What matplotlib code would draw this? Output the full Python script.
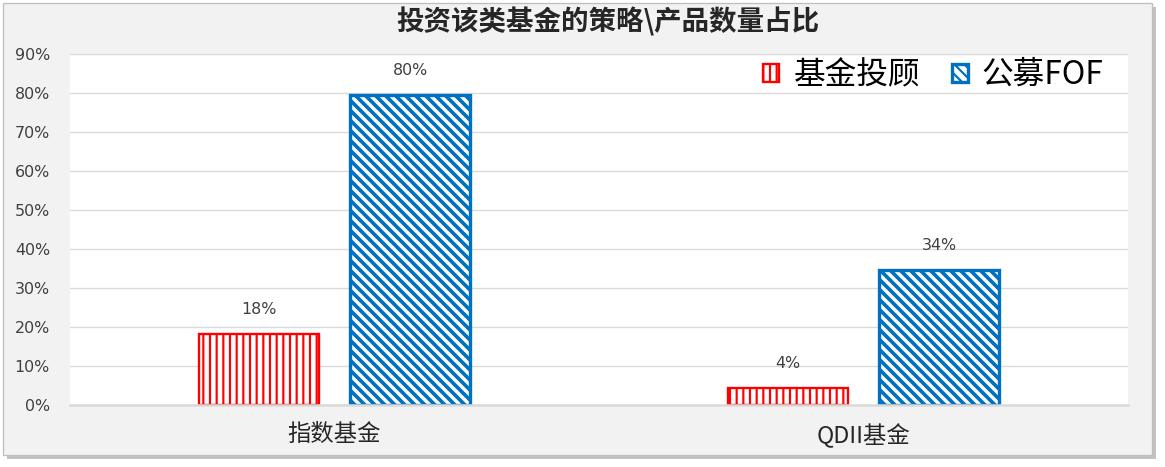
import matplotlib.pyplot as plt
import numpy as np
from matplotlib.patches import Rectangle

# 数据
categories = ["指数基金", "QDII基金"]
series_names = ["基金投顾", "公募FOF"]
advisor_vals = [0.182, 0.044]
fof_vals = [0.795, 0.346]
value_labels = [["18%", "4%"], ["80%", "34%"]]
yticks = [0, 0.1, 0.2, 0.3, 0.4, 0.5, 0.6, 0.7, 0.8, 0.9]

W, H, DPI = 1165, 467, 120
NARROW = ['Liberation Sans Narrow', 'DejaVu Sans']

plt.rcParams['font.family'] = ['Noto Sans CJK SC', 'DejaVu Sans']
plt.rcParams['hatch.linewidth'] = 1.3

fig = plt.figure(figsize=(W / DPI, H / DPI), dpi=DPI, facecolor="white")

# 外框和阴影
shadow = Rectangle((7 / W, 8 / H), 1149 / W, 452 / H, transform=fig.transFigure,
                   facecolor="#9a9a9a", edgecolor="none", alpha=0.6, zorder=-3)
box = Rectangle((3 / W, 12 / H), 1149 / W, 452 / H, transform=fig.transFigure,
                facecolor="#f2f2f2", edgecolor="#bfbfbf", linewidth=0.8, zorder=-2)
fig.patches.extend([shadow, box])

ax = fig.add_axes([70 / W, 62 / H, 1058 / W, 351 / H])
ax.set_zorder(1)
ax.set_facecolor("white")

x = np.arange(len(categories))
bw = 0.227
off = 0.143

b1 = ax.bar(x - off, advisor_vals, bw, facecolor="white", edgecolor="#ff0000",
            hatch="|||", linewidth=1.4, label=series_names[0], zorder=3)
b2 = ax.bar(x + off, fof_vals, bw, facecolor="white", edgecolor="#0070c0",
            hatch="\\\\\\\\", linewidth=2.0, label=series_names[1], zorder=3)
for bar in b2:
    if hasattr(bar, "set_hatch_linewidth"):
        bar.set_hatch_linewidth(2.2)

for bars, labels in zip([b1, b2], value_labels):
    for bar, lab in zip(bars, labels):
        ax.annotate(lab, (bar.get_x() + bar.get_width() / 2, bar.get_height()),
                    xytext=(0, 10), textcoords="offset points", ha="center",
                    va="bottom", fontsize=9.5, color="#404040", family=NARROW)

ax.set_xlim(-0.5, 1.5)
ax.set_ylim(0, 0.9)
ax.set_yticks(yticks)
ax.set_yticklabels([f"{int(round(v * 100))}%" for v in yticks], family=NARROW)
ax.set_xticks(x)
ax.set_xticklabels(categories, fontsize=14, color="#262626")
ax.tick_params(axis="y", length=0, labelsize=9.5, labelcolor="#404040", pad=12)
ax.tick_params(axis="x", length=0, pad=11)
ax.grid(axis="y", color="#d9d9d9", linewidth=0.8, zorder=0)
for s in ["top", "right", "left"]:
    ax.spines[s].set_visible(False)
ax.spines["bottom"].set_color("#d9d9d9")
ax.spines["bottom"].set_linewidth(1.5)
ax.spines["bottom"].set_zorder(4)

fig.text(608 / W, 0.953, "投资该类基金的策略\\产品数量占比", ha="center", va="center",
         fontsize=16.5, fontweight="bold", color="#262626")

ax.legend(loc="center right", bbox_to_anchor=(1132 / W, 1 - 75 / H),
          bbox_transform=fig.transFigure, ncol=2, frameon=False, fontsize=19,
          handlelength=0.5, handleheight=0.5, handletextpad=0.45, columnspacing=1.0)

fig.savefig("out.png", dpi=DPI, facecolor=fig.get_facecolor())
